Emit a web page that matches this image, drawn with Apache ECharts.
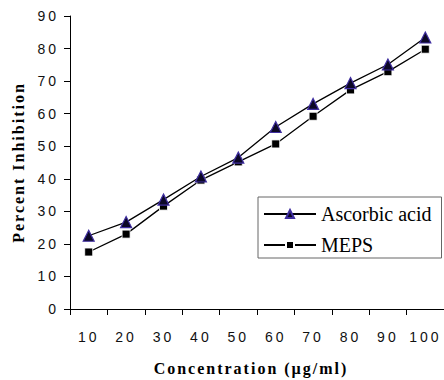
<!DOCTYPE html>
<html>
<head>
<meta charset="utf-8">
<script src="https://cdn.jsdelivr.net/npm/echarts@6/dist/echarts.min.js"></script>
<style>
  html, body { margin: 0; padding: 0; background: #fff; }
  #chart { width: 444px; height: 380px; }
  #chart text[style*="Liberation Sans"] { letter-spacing: 3px; }
  #chart text[style*="Times New Roman"] { letter-spacing: 2px; }
</style>
</head>
<body>
<div id="chart"></div>
<script>
const categories = ['10', '20', '30', '40', '50', '60', '70', '80', '90', '100'];
const ascorbicAcid = [22.5, 26.7, 33.6, 40.7, 46.5, 55.9, 63.0, 69.4, 75.1, 83.4];
const meps = [17.5, 23.0, 31.6, 39.6, 45.2, 50.7, 59.2, 67.3, 72.9, 79.8];
const yTicks = { min: 0, max: 90, interval: 10 };

const chart = echarts.init(document.getElementById('chart'), null, { renderer: 'svg' });
chart.setOption({
  animation: false,
  backgroundColor: '#fff',
  grid: { left: 70, right: 0, top: 16, bottom: 71, outerBoundsMode: 'none' },
  legend: {
    orient: 'vertical',
    left: 258, top: 197,
    width: 182,
    padding: [7, 10, 3, 5],
    itemGap: 11,
    itemWidth: 52,
    itemHeight: 10,
    borderColor: '#666',
    borderWidth: 1,
    backgroundColor: '#fff',
    textStyle: { fontFamily: 'Liberation Serif', fontSize: 20, color: '#000' },
    data: ['Ascorbic acid', 'MEPS']
  },
  xAxis: {
    type: 'category',
    data: categories,
    boundaryGap: true,
    axisLine: { lineStyle: { color: '#000', width: 1 } },
    axisTick: { show: true, length: 6, lineStyle: { color: '#000' } },
    axisLabel: { margin: 21, color: '#111', fontFamily: 'Liberation Sans', fontSize: 14, interval: 0 },
    name: 'Concentration (µg/ml)',
    nameLocation: 'middle',
    nameGap: 51,
    nameTextStyle: { fontFamily: 'Times New Roman', fontWeight: 'bold', fontSize: 16, color: '#000', padding: [0, 12, 0, 0] }
  },
  yAxis: {
    type: 'value',
    min: yTicks.min, max: yTicks.max, interval: yTicks.interval,
    splitLine: { show: false },
    axisLine: { show: true, lineStyle: { color: '#000', width: 1 } },
    axisTick: { show: true, length: 6, lineStyle: { color: '#000' } },
    axisLabel: { margin: 11, color: '#111', fontFamily: 'Liberation Sans', fontSize: 14 },
    name: 'Percent Inhibition',
    nameLocation: 'middle',
    nameGap: 44,
    nameRotate: 90,
    nameTextStyle: { fontFamily: 'Times New Roman', fontWeight: 'bold', fontSize: 16, color: '#000' }
  },
  series: [
    {
      name: 'Ascorbic acid',
      type: 'line',
      data: ascorbicAcid,
      symbol: 'triangle',
      symbolSize: 11,
      z: 3,
      lineStyle: { color: '#000', width: 1.3 },
      itemStyle: { color: '#0c0826', borderColor: '#3f2ea0', borderWidth: 1.2 }
    },
    {
      name: 'MEPS',
      type: 'line',
      data: meps,
      symbol: 'rect',
      symbolSize: 8,
      z: 2,
      lineStyle: { color: '#000', width: 1.3 },
      itemStyle: { color: '#000', borderColor: '#fff', borderWidth: 0.8 }
    }
  ]
});
</script>
</body>
</html>
